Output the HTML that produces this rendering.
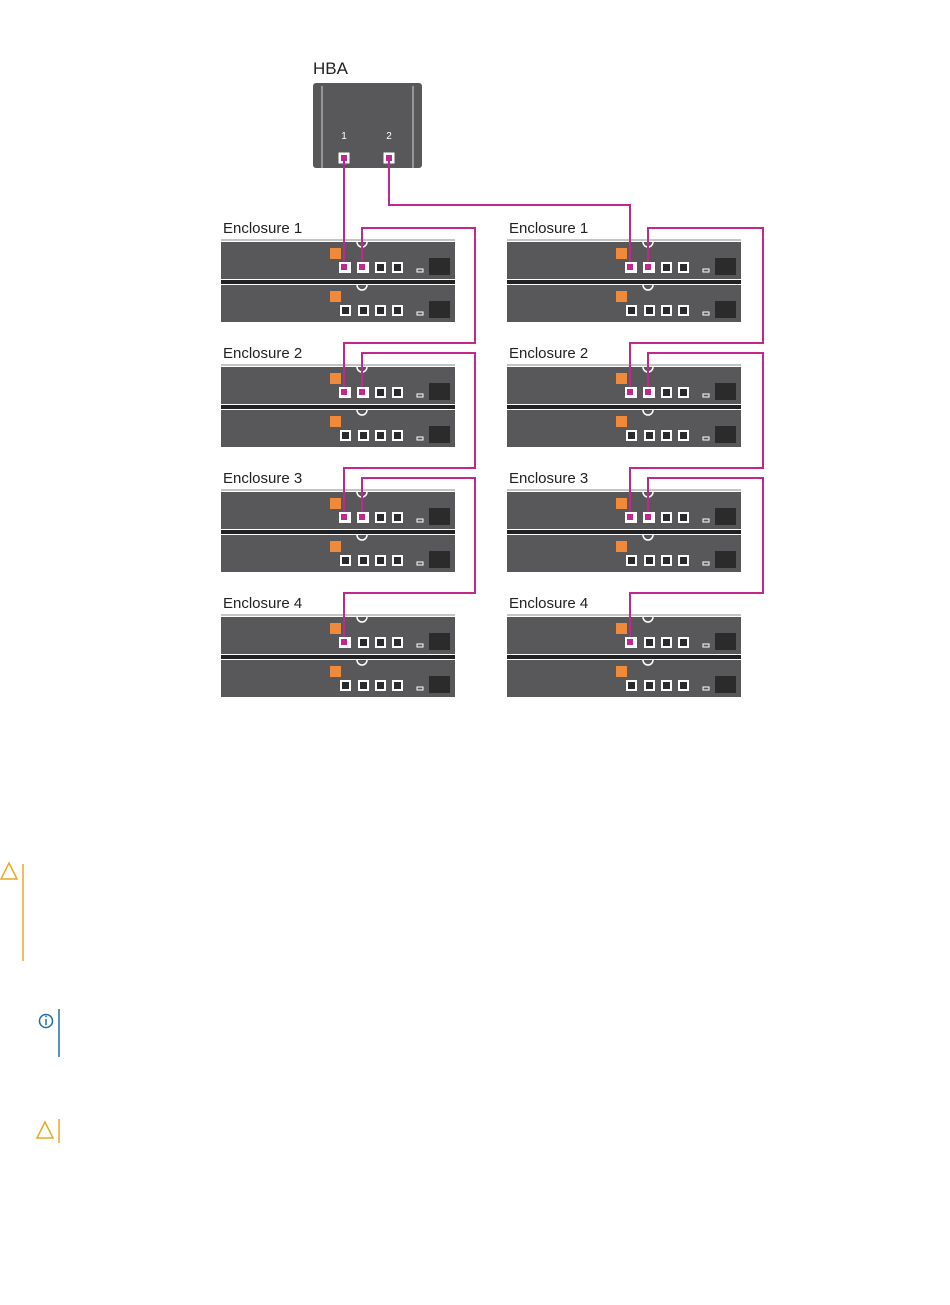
<!DOCTYPE html>
<html><head><style>body{margin:0;background:#fff}svg{display:block}</style></head><body>
<svg width="950" height="1305" viewBox="0 0 950 1305" xmlns="http://www.w3.org/2000/svg" font-family="Liberation Sans, sans-serif">
<defs>
<g id="unit">
<rect x="0" y="0" width="234" height="37" fill="#58585a"/>
<rect x="109" y="6" width="11" height="11" fill="#f08a3a"/>
<path d="M136 0 a5 5 0 0 0 10 0" fill="none" stroke="#fff" stroke-width="1.5"/>
<g fill="#2a2a2a" stroke="#fff" stroke-width="2">
<rect x="120" y="21" width="9" height="9"/><rect x="138" y="21" width="9" height="9"/>
<rect x="155" y="21" width="9" height="9"/><rect x="172" y="21" width="9" height="9"/>
</g>
<rect x="196" y="27" width="6" height="3" fill="none" stroke="#fff" stroke-width="1"/>
<rect x="208" y="16" width="21" height="17" fill="#2b2b2b"/>
</g>
<g id="enc">
<line x1="0" y1="-2" x2="234" y2="-2" stroke="#888" stroke-width="1"/>
<use href="#unit" x="0" y="0"/>
<rect x="0" y="38" width="234" height="4" fill="#222"/>
<use href="#unit" x="0" y="43"/>
</g>
</defs>
<text x="313" y="74" font-size="17" fill="#222">HBA</text>
<rect x="313" y="83" width="109" height="85" rx="3" fill="#58585a"/>
<line x1="322" y1="86" x2="322" y2="168" stroke="#aaa" stroke-width="1.5"/>
<line x1="413" y1="86" x2="413" y2="168" stroke="#aaa" stroke-width="1.5"/>
<text x="344" y="139" font-size="10" fill="#fff" text-anchor="middle">1</text>
<text x="389" y="139" font-size="10" fill="#fff" text-anchor="middle">2</text>
<g font-size="15" fill="#222">
<text x="223" y="233">Enclosure 1</text><text x="223" y="358">Enclosure 2</text>
<text x="223" y="483">Enclosure 3</text><text x="223" y="608">Enclosure 4</text>
<text x="509" y="233">Enclosure 1</text><text x="509" y="358">Enclosure 2</text>
<text x="509" y="483">Enclosure 3</text><text x="509" y="608">Enclosure 4</text>
</g>
<use href="#enc" x="221" y="242"/><use href="#enc" x="221" y="367"/>
<use href="#enc" x="221" y="492"/><use href="#enc" x="221" y="617"/>
<use href="#enc" x="507" y="242"/><use href="#enc" x="507" y="367"/>
<use href="#enc" x="507" y="492"/><use href="#enc" x="507" y="617"/>
<g fill="#fff" stroke="#fff">
<rect x="339" y="153" width="10" height="10"/><rect x="384" y="153" width="10" height="10"/>
</g>
<g fill="none" stroke="#c2278f" stroke-width="2">
<path d="M344 158 V267"/>
<path d="M362 267 V228 H475 V343 H344 V392"/>
<path d="M362 392 V353 H475 V468 H344 V517"/>
<path d="M362 517 V478 H475 V593 H344 V642"/>
<path d="M389 158 V205 H630 V267"/>
<path d="M648 267 V228 H763 V343 H630 V392"/>
<path d="M648 392 V353 H763 V468 H630 V517"/>
<path d="M648 517 V478 H763 V593 H630 V642"/>
</g>
<g fill="#fff">
<rect x="339" y="262" width="11" height="11"/><rect x="357" y="262" width="11" height="11"/>
<rect x="339" y="387" width="11" height="11"/><rect x="357" y="387" width="11" height="11"/>
<rect x="339" y="512" width="11" height="11"/><rect x="357" y="512" width="11" height="11"/>
<rect x="339" y="637" width="11" height="11"/>
<rect x="625" y="262" width="11" height="11"/><rect x="643" y="262" width="11" height="11"/>
<rect x="625" y="387" width="11" height="11"/><rect x="643" y="387" width="11" height="11"/>
<rect x="625" y="512" width="11" height="11"/><rect x="643" y="512" width="11" height="11"/>
<rect x="625" y="637" width="11" height="11"/>
</g>
<g fill="#c2278f">
<rect x="341" y="155" width="6" height="6"/><rect x="386" y="155" width="6" height="6"/>
<rect x="341" y="264" width="6" height="6"/><rect x="359" y="264" width="6" height="6"/>
<rect x="341" y="389" width="6" height="6"/><rect x="359" y="389" width="6" height="6"/>
<rect x="341" y="514" width="6" height="6"/><rect x="359" y="514" width="6" height="6"/>
<rect x="341" y="639" width="6" height="6"/>
<rect x="627" y="264" width="6" height="6"/><rect x="645" y="264" width="6" height="6"/>
<rect x="627" y="389" width="6" height="6"/><rect x="645" y="389" width="6" height="6"/>
<rect x="627" y="514" width="6" height="6"/><rect x="645" y="514" width="6" height="6"/>
<rect x="627" y="639" width="6" height="6"/>
</g>
<g fill="none" stroke="#e8a825" stroke-width="1.5">
<path d="M9 863 L1 879 H17 Z"/><line x1="23" y1="864" x2="23" y2="961"/>
<path d="M45 1122 L37 1138 H53 Z"/><line x1="59" y1="1119" x2="59" y2="1143"/>
</g>
<circle cx="46" cy="1021" r="6.5" fill="none" stroke="#1a6fae" stroke-width="1.5"/>
<line x1="46" y1="1019" x2="46" y2="1025" stroke="#1a6fae" stroke-width="1.5"/>
<circle cx="46" cy="1016.5" r="0.9" fill="#1a6fae"/>
<line x1="59" y1="1009" x2="59" y2="1057" stroke="#1a6fae" stroke-width="1.5"/>
</svg>
</body></html>
